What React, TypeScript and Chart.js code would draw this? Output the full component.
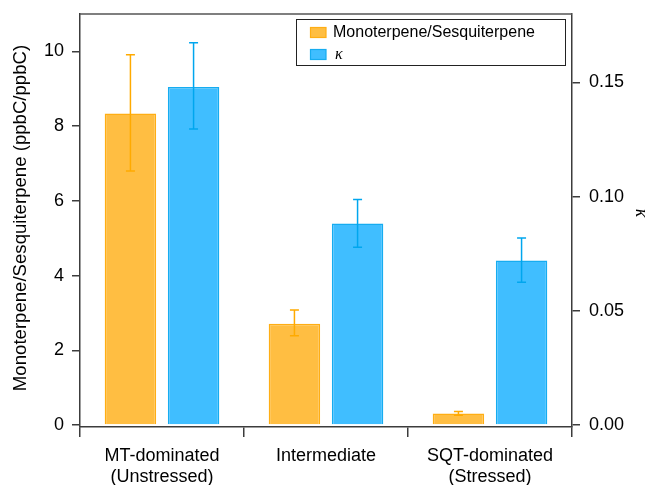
import React, { useEffect, useRef } from "react";
import { Chart, registerables } from "chart.js";

Chart.register(...registerables);

const categories = [["MT-dominated", "(Unstressed)"], "Intermediate", ["SQT-dominated", "(Stressed)"]];
const ratioValues = [8.34, 2.71, 0.31];
const ratioLow = [6.8, 2.39, 0.26];
const ratioHigh = [9.91, 3.08, 0.36];
const kappaValues = [0.148, 0.0882, 0.072];
const kappaLow = [0.1296, 0.0778, 0.0625];
const kappaHigh = [0.1674, 0.0988, 0.0819];
const leftTicks = [0, 2, 4, 6, 8, 10];
const rightTicks = [0, 0.05, 0.1, 0.15];
const seriesNames = ["Monoterpene/Sesquiterpene", "κ"];

const FONT = '"Liberation Sans", Arial, Helvetica, sans-serif';
const ORANGE_FILL = "#FFBE42";
const ORANGE_EDGE = "#FFAE14";
const ORANGE_ERR = "#FFAA00";
const BLUE_FILL = "#40BEFF";
const BLUE_EDGE = "#16ACF0";
const BLUE_ERR = "#00A6EE";
const AXIS = "#3c3c3c";

const errorLows = [ratioLow, kappaLow];
const errorHighs = [ratioHigh, kappaHigh];
const errorColors = [ORANGE_ERR, BLUE_ERR];

const errorBarsPlugin = {
  id: "errorBars",
  afterDatasetsDraw(chart: any) {
    const ctx = chart.ctx;
    chart.data.datasets.forEach((ds: any, i: number) => {
      const meta = chart.getDatasetMeta(i);
      const scale = chart.scales[ds.yAxisID];
      meta.data.forEach((bar: any, j: number) => {
        const x = bar.x;
        const yl = scale.getPixelForValue(errorLows[i][j]);
        const yh = scale.getPixelForValue(errorHighs[i][j]);
        ctx.save();
        ctx.strokeStyle = errorColors[i];
        ctx.lineWidth = 1.5;
        ctx.beginPath();
        ctx.moveTo(x, yl);
        ctx.lineTo(x, yh);
        ctx.moveTo(x - 4.5, yl);
        ctx.lineTo(x + 4.5, yl);
        ctx.moveTo(x - 4.5, yh);
        ctx.lineTo(x + 4.5, yh);
        ctx.stroke();
        ctx.restore();
      });
    });
  },
};

const decorPlugin = {
  id: "decor",
  afterDraw(chart: any) {
    const ctx = chart.ctx;
    const a = chart.chartArea;
    ctx.save();
    // top frame
    ctx.strokeStyle = "#555";
    ctx.lineWidth = 1.5;
    ctx.beginPath();
    ctx.moveTo(a.left, a.top);
    ctx.lineTo(a.right, a.top);
    ctx.stroke();

    // left axis title
    ctx.fillStyle = "#000";
    ctx.font = `18.6px ${FONT}`;
    ctx.textAlign = "center";
    ctx.textBaseline = "middle";
    ctx.save();
    ctx.translate(21, 218);
    ctx.rotate(-Math.PI / 2);
    ctx.fillText("Monoterpene/Sesquiterpene (ppbC/ppbC)", 0, 0);
    ctx.restore();

    // right axis title
    ctx.save();
    ctx.translate(641, 213);
    ctx.rotate(Math.PI / 2);
    ctx.font = `italic 18px "Liberation Serif", serif`;
    ctx.fillText(seriesNames[1], 0, 0);
    ctx.restore();

    // legend
    ctx.strokeStyle = "#222";
    ctx.lineWidth = 1;
    ctx.fillStyle = "#fff";
    ctx.fillRect(296.5, 19.5, 269, 46);
    ctx.strokeRect(296.5, 19.5, 269, 46);
    const swatches = [
      [ORANGE_FILL, ORANGE_EDGE, 27.5],
      [BLUE_FILL, BLUE_EDGE, 49.5],
    ];
    swatches.forEach(([fill, edge, y]: any, i: number) => {
      ctx.fillStyle = fill;
      ctx.fillRect(310, y, 16, 10);
      ctx.strokeStyle = edge;
      ctx.lineWidth = 1.2;
      ctx.strokeRect(310.5, y, 15.5, 10);
      ctx.fillStyle = "#000";
      ctx.textAlign = "left";
      ctx.textBaseline = "middle";
      ctx.font = i === 0 ? `16px ${FONT}` : `italic 16px "Liberation Serif", serif`;
      ctx.fillText(seriesNames[i], i === 0 ? 333 : 335, y + 5.5);
    });
    ctx.restore();
  },
};

const noPad = (s: any) => {
  s.paddingTop = 0;
  s.paddingBottom = 0;
  s.paddingLeft = 0;
  s.paddingRight = 0;
};

export default function App() {
  const canvasRef = useRef<HTMLCanvasElement | null>(null);

  useEffect(() => {
    const canvas = canvasRef.current;
    if (!canvas) return;
    const chart = new Chart(canvas, {
      type: "bar",
      data: {
        labels: categories as any,
        datasets: [
          {
            label: seriesNames[0],
            data: ratioValues,
            yAxisID: "y",
            backgroundColor: ORANGE_FILL,
            borderColor: ORANGE_EDGE,
            borderWidth: 1.5,
            categoryPercentage: 0.77,
            barPercentage: 0.815,
          },
          {
            label: seriesNames[1],
            data: kappaValues,
            yAxisID: "y1",
            backgroundColor: BLUE_FILL,
            borderColor: BLUE_EDGE,
            borderWidth: 1.5,
            categoryPercentage: 0.77,
            barPercentage: 0.815,
          },
        ],
      },
      options: {
        responsive: false,
        animation: false,
        layout: { padding: { top: 14, left: 0, right: 0, bottom: 0 } },
        plugins: { legend: { display: false }, tooltip: { enabled: false } },
        scales: {
          x: {
            grid: {
              drawOnChartArea: false,
              drawTicks: true,
              tickLength: 10,
              color: AXIS,
              lineWidth: 1.5,
              offset: true,
            },
            border: { display: true, color: AXIS, width: 1.5 },
            ticks: {
              color: "#000",
              font: { family: FONT, size: 18, lineHeight: 1.2 },
              padding: 8,
              maxRotation: 0,
              autoSkip: false,
            },
            afterFit: (s: any) => {
              s.height = 58;
              noPad(s);
            },
          },
          y: {
            position: "left",
            min: -0.0535,
            max: 11,
            grid: { drawOnChartArea: false, tickLength: 8, color: AXIS, lineWidth: 1.5 },
            border: { display: true, color: AXIS, width: 1.5 },
            ticks: {
              color: "#000",
              font: { family: FONT, size: 18 },
              padding: 8,
              callback: (v: any) => String(v),
            },
            afterBuildTicks: (s: any) => {
              s.ticks = leftTicks.map((v) => ({ value: v }));
            },
            afterFit: (s: any) => {
              s.width = 80;
              noPad(s);
            },
          },
          y1: {
            position: "right",
            min: -0.00088,
            max: 0.18,
            grid: { drawOnChartArea: false, tickLength: 8, color: AXIS, lineWidth: 1.5 },
            border: { display: true, color: AXIS, width: 1.5 },
            ticks: {
              color: "#000",
              font: { family: FONT, size: 18 },
              padding: 9,
              callback: (v: any) => Number(v).toFixed(2),
            },
            afterBuildTicks: (s: any) => {
              s.ticks = rightTicks.map((v) => ({ value: v }));
            },
            afterFit: (s: any) => {
              s.width = 76;
              noPad(s);
            },
          },
        },
      } as any,
      plugins: [errorBarsPlugin, decorPlugin],
    });
    return () => chart.destroy();
  }, []);

  return (
    <div style={{ position: "absolute", left: 0, top: 0, width: 648, height: 485, background: "#fff" }}>
      <canvas ref={canvasRef} width={648} height={485} style={{ width: 648, height: 485, display: "block" }} />
    </div>
  );
}
